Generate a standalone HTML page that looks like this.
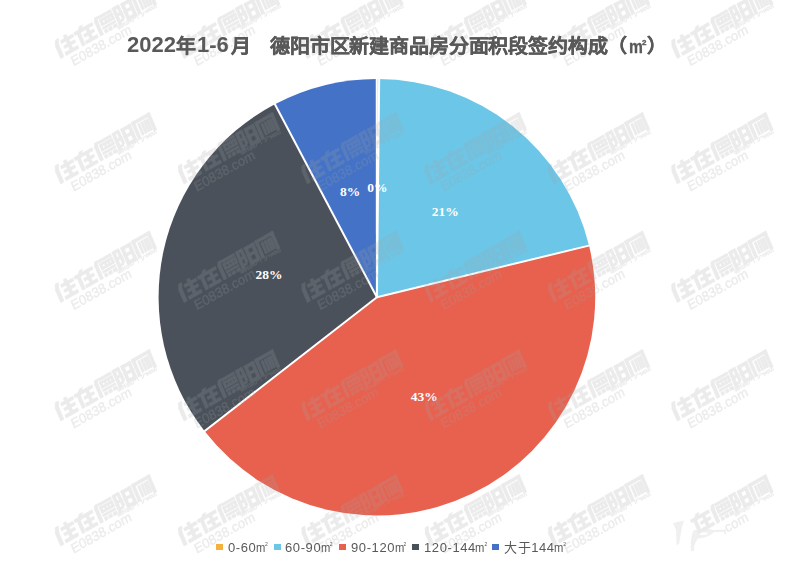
<!DOCTYPE html>
<html lang="zh-CN">
<head>
<meta charset="utf-8">
<style>
html,body{margin:0;padding:0;background:#fff;}
body{width:800px;height:576px;position:relative;overflow:hidden;font-family:"Liberation Sans",sans-serif;}
#title{position:absolute;left:0;top:33px;width:800px;height:30px;text-align:left;font-weight:bold;font-size:20px;color:#595959;white-space:pre;line-height:26px;-webkit-text-stroke:0.35px #595959;}
#title span{position:absolute;top:0;}
#title .c{transform:scaleY(0.94);transform-origin:0 19px;}
#title .m{font-size:19px;top:1px;transform:scaleX(0.82);transform-origin:0 0;}
#title .s2{font-size:8px;top:-3px;}
#title .d{font-size:22px;top:-1px;-webkit-text-stroke:0;}
svg{position:absolute;left:0;top:0;}
.lg{position:absolute;top:540px;font-size:13px;letter-spacing:0.6px;color:#595959;white-space:pre;line-height:16px;}
.lg i{font-style:normal;display:inline-block;transform:scaleX(0.86);transform-origin:0 0;letter-spacing:0;}
.lg b{font-weight:normal;position:absolute;font-size:5px;line-height:6px;top:1px;margin-left:-1.8px;letter-spacing:0;}
.lg i{margin-left:-0.6px;}
.mk{position:absolute;top:544px;width:6.6px;height:6.4px;}
</style>
</head>
<body>
<svg width="800" height="576" viewBox="0 0 800 576">
<g>
<path d="M376.9,297.2 L376.90,78.90 A218.3,218.3 0 0 1 378.42,78.91 Z" fill="#f4b13b"/>
<path d="M376.9,297.2 L378.42,78.91 A218.3,218.3 0 0 1 589.01,245.57 Z" fill="#6cc6e7"/>
<path d="M376.9,297.2 L589.01,245.57 A218.3,218.3 0 0 1 204.50,431.12 Z" fill="#e8604e"/>
<path d="M376.9,297.2 L204.50,431.12 A218.3,218.3 0 0 1 274.85,104.22 Z" fill="#4a515a"/>
<path d="M376.9,297.2 L274.85,104.22 A218.3,218.3 0 0 1 376.90,78.90 Z" fill="#4372c6"/>
</g>
<g stroke="#fff" stroke-width="2" fill="none" stroke-linecap="butt">
<line x1="376.9" y1="297.2" x2="376.75" y2="75.90"/>
<line x1="376.9" y1="297.2" x2="379.2" y2="75.91"/>
<line x1="376.9" y1="297.2" x2="591.92" y2="244.86"/>
<line x1="376.9" y1="297.2" x2="202.13" y2="432.96"/>
<line x1="376.9" y1="297.2" x2="273.45" y2="101.57"/>
</g>
<g font-family="Liberation Serif" font-weight="bold" font-size="13.5" fill="#fff" text-anchor="middle">
<text x="377.4" y="191.7">0%</text>
<text x="350.1" y="196">8%</text>
<text x="445.2" y="216.2">21%</text>
<text x="424.2" y="401">43%</text>
<text x="269.1" y="278.8">28%</text>
</g>
<defs>
<g id="wm">
<path transform="scale(1.04,1) skewX(-6)" stroke="#a4a4a4" stroke-width="0.6" d="M2,0L5.5,0L3.5,5.5L0,5.5zM0,5h3.5v13.6h-3.5zM11,0h3v2.5h-3zM6.5,3h13.5v3h-13.5zM7.5,9h12v2.8h-12zM6,15.4h14v3.2h-14zM11.5,3h3.2v13h-3.2zM21.5,2.5h20v3h-20zM28.5,0L32.0,0L27.5,6L24.0,6zM24.0,5.5h3.2v13.1h-3.2zM29.5,9h11v2.8h-11zM33.5,5.5h3v11h-3zM28.5,15.6h13v3h-13zM45.5,0L49,0L47,4.5L43.5,4.5zM44,4h3.2v14.6h-3.2zM49,0.3h14v2.5h-14zM49,4h14v2.2h-14zM49,4h2.3v6.5h-2.3zM53.6,4h2v6.5h-2zM57.2,4h2v6.5h-2zM60.7,4h2.3v6.5h-2.3zM49,8.5h14v2h-14zM49,12h14v2.2h-14zM49.5,15.4h3v3.2h-3zM54,15.4h3.5v3.2h-3.5zM59,15.4h4v3.2h-4zM64.5,0h3v18.6h-3zM67.5,0h4.5v2.6h-4.5zM69.5,2.5h2.6v5h-2.6zM67.5,7.3h5v2.6h-5zM69.9,9.8h2.6v5h-2.6zM67.5,14.4h3.5v2.2h-3.5zM74.0,0.5h3v18.1h-3zM81.5,0.5h3v18.1h-3zM74.0,0.5h10.5v3h-10.5zM74.0,8h10.5v2.8h-10.5zM74.0,15.6h10.5v3h-10.5zM86,0h20v3h-20zM86,0h3v18.6h-3zM103,0h3v18.6h-3zM91,4.5h2.2v12h-2.2zM94.3,4.5h2.2v12h-2.2zM97.3,4.5h2.2v12h-2.2zM100,4.5h2.2v12h-2.2z"/>
<text x="62" y="21.8" font-family="Liberation Sans" font-weight="bold" font-size="4.5" textLength="45" lengthAdjust="spacingAndGlyphs">德阳房产门户网站</text>
<text x="8.5" y="31.6" font-family="Liberation Sans" font-size="13.5" textLength="68" lengthAdjust="spacingAndGlyphs" stroke="#a4a4a4" stroke-width="0.35" transform="skewX(-6)">E0838.com</text>
</g>
<g id="wm2">
<path transform="scale(1.04,1) skewX(-6)" stroke="#a4a4a4" stroke-width="0.6" d="M21.5,2.5h20v3h-20zM28.5,0L32.0,0L27.5,6L24.0,6zM24.0,5.5h3.2v13.1h-3.2zM29.5,9h11v2.8h-11zM33.5,5.5h3v11h-3zM28.5,15.6h13v3h-13zM45.5,0L49,0L47,4.5L43.5,4.5zM44,4h3.2v14.6h-3.2zM49,0.3h14v2.5h-14zM49,4h14v2.2h-14zM49,4h2.3v6.5h-2.3zM53.6,4h2v6.5h-2zM57.2,4h2v6.5h-2zM60.7,4h2.3v6.5h-2.3zM49,8.5h14v2h-14zM49,12h14v2.2h-14zM49.5,15.4h3v3.2h-3zM54,15.4h3.5v3.2h-3.5zM59,15.4h4v3.2h-4zM64.5,0h3v18.6h-3zM67.5,0h4.5v2.6h-4.5zM69.5,2.5h2.6v5h-2.6zM67.5,7.3h5v2.6h-5zM69.9,9.8h2.6v5h-2.6zM67.5,14.4h3.5v2.2h-3.5zM74.0,0.5h3v18.1h-3zM81.5,0.5h3v18.1h-3zM74.0,0.5h10.5v3h-10.5zM74.0,8h10.5v2.8h-10.5zM74.0,15.6h10.5v3h-10.5zM86,0h20v3h-20zM86,0h3v18.6h-3zM103,0h3v18.6h-3zM91,4.5h2.2v12h-2.2zM94.3,4.5h2.2v12h-2.2zM97.3,4.5h2.2v12h-2.2zM100,4.5h2.2v12h-2.2z"/>
<text x="62" y="21.8" font-family="Liberation Sans" font-weight="bold" font-size="4.5" textLength="45" lengthAdjust="spacingAndGlyphs">德阳房产门户网站</text>
<text x="47.5" y="31.6" font-family="Liberation Sans" font-size="13.5" textLength="29" lengthAdjust="spacingAndGlyphs" stroke="#a4a4a4" stroke-width="0.35" transform="skewX(-6)">.com</text>
</g>
</defs>
<g fill="#a4a4a4" opacity="0.22">
<use href="#wm" transform="translate(53.36,41.40) rotate(-29.5)"/>
<use href="#wm" transform="translate(176.66,41.40) rotate(-29.5)"/>
<use href="#wm" transform="translate(299.96,41.40) rotate(-29.5)"/>
<use href="#wm" transform="translate(423.26,41.40) rotate(-29.5)"/>
<use href="#wm" transform="translate(546.56,41.40) rotate(-29.5)"/>
<use href="#wm" transform="translate(669.86,41.40) rotate(-29.5)"/>
<use href="#wm" transform="translate(53.36,166.70) rotate(-29.5)"/>
<use href="#wm" transform="translate(176.66,166.70) rotate(-29.5)"/>
<use href="#wm" transform="translate(299.96,166.70) rotate(-29.5)"/>
<use href="#wm" transform="translate(423.26,166.70) rotate(-29.5)"/>
<use href="#wm" transform="translate(546.56,166.70) rotate(-29.5)"/>
<use href="#wm" transform="translate(669.86,166.70) rotate(-29.5)"/>
<use href="#wm" transform="translate(53.36,285.36) rotate(-29.5)"/>
<use href="#wm" transform="translate(176.66,285.36) rotate(-29.5)"/>
<use href="#wm" transform="translate(299.96,285.36) rotate(-29.5)"/>
<use href="#wm" transform="translate(423.26,285.36) rotate(-29.5)"/>
<use href="#wm" transform="translate(546.56,285.36) rotate(-29.5)"/>
<use href="#wm" transform="translate(669.86,285.36) rotate(-29.5)"/>
<use href="#wm" transform="translate(53.36,403.80) rotate(-29.5)"/>
<use href="#wm" transform="translate(176.66,403.80) rotate(-29.5)"/>
<use href="#wm" transform="translate(299.96,403.80) rotate(-29.5)"/>
<use href="#wm" transform="translate(423.26,403.80) rotate(-29.5)"/>
<use href="#wm" transform="translate(546.56,403.80) rotate(-29.5)"/>
<use href="#wm" transform="translate(669.86,403.80) rotate(-29.5)"/>
<use href="#wm" transform="translate(53.36,528.80) rotate(-29.5)"/>
<use href="#wm" transform="translate(176.66,528.80) rotate(-29.5)"/>
<use href="#wm" transform="translate(299.96,528.80) rotate(-29.5)"/>
<use href="#wm" transform="translate(423.26,528.80) rotate(-29.5)"/>
<use href="#wm" transform="translate(546.56,528.80) rotate(-29.5)"/>
<use href="#wm2" transform="translate(669.86,528.80) rotate(-29.5)"/>
<g opacity="0.75"><path d="M673,523 L684,520.5 L682,527 L679,544 L676.5,545 L676,530 Z"/>
<path d="M693,531 C700,528 711,528 714,531 C713,535 705,538 698,538.5 C695,542 693.5,547 694,551 L691,551 C690,545 691,538 693,531 Z M699,532.5 C703,531.5 707,532 708.5,533.5 C706,535 702,535.5 699.5,534.5 Z" fill-rule="evenodd"/>
<path d="M703,530.5 L726,529.5 L726,531.8 L703,532.6 Z"/></g>
</g>
</svg>
<div id="title"><span class="d" style="left:127px">2022</span><span class="c" style="left:176px">年</span><span class="d" style="left:197px">1-6</span><span class="c" style="left:231px">月</span><span class="c" style="left:270px;letter-spacing:-0.15px">德阳市区新建商品房分面积段签约构成</span><span class="c" style="left:607px">（</span><span class="m" style="left:629px">m</span><span class="s2" style="left:642px">2</span><span class="c" style="left:647px">）</span></div>
<div class="mk" style="left:216px;background:#f4b13b"></div><div class="lg" style="left:228px">0-60<i>m</i><b>2</b></div>
<div class="mk" style="left:274px;background:#6cc6e7"></div><div class="lg" style="left:285px">60-90<i>m</i><b>2</b></div>
<div class="mk" style="left:339px;background:#e8604e"></div><div class="lg" style="left:351px">90-120<i>m</i><b>2</b></div>
<div class="mk" style="left:412px;background:#4a515a"></div><div class="lg" style="left:424px">120-144<i>m</i><b>2</b></div>
<div class="mk" style="left:492px;background:#4372c6"></div><div class="lg" style="left:504px">大于144<i>m</i><b>2</b></div>
</body>
</html>
